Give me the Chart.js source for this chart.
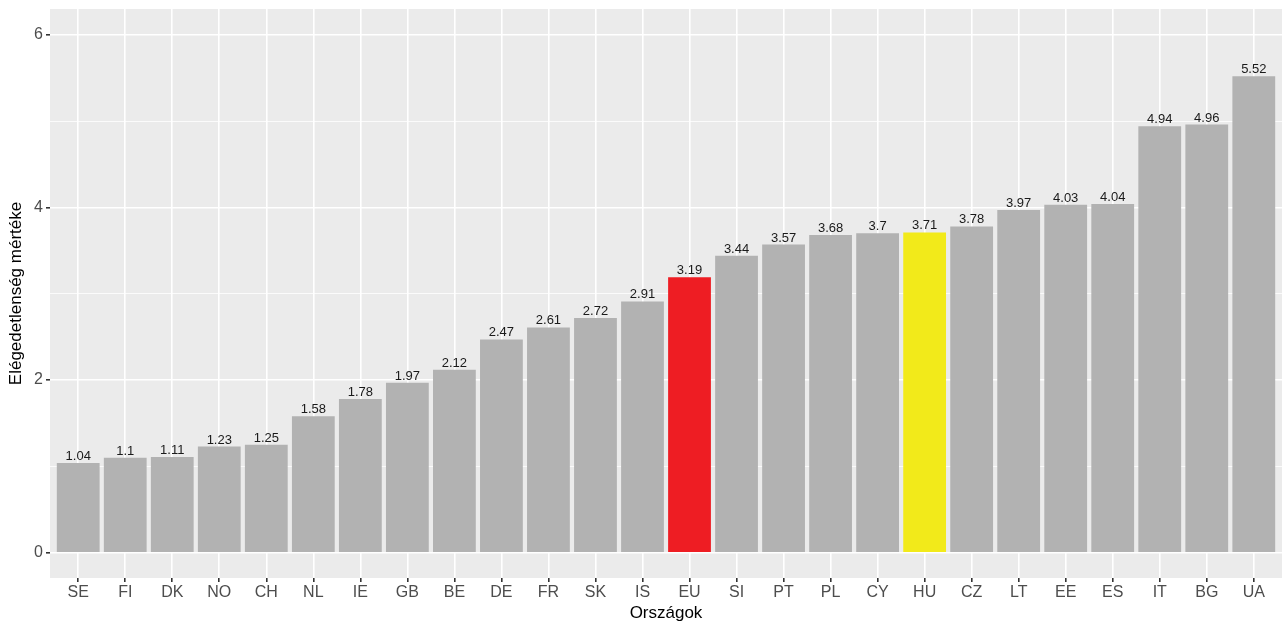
<!DOCTYPE html>
<html>
<head>
<meta charset="utf-8">
<script src="https://cdn.jsdelivr.net/npm/chart.js@4"></script>
<style>
  body { margin: 0; background: #fff; }
</style>
</head>
<body>
<canvas id="chart" width="1282" height="626"></canvas>
<script>
const countries = ['SE', 'FI', 'DK', 'NO', 'CH', 'NL', 'IE', 'GB', 'BE', 'DE', 'FR', 'SK', 'IS',
  'EU', 'SI', 'PT', 'PL', 'CY', 'HU', 'CZ', 'LT', 'EE', 'ES', 'IT', 'BG', 'UA'];
const values = [1.04, 1.1, 1.11, 1.23, 1.25, 1.58, 1.78, 1.97, 2.12, 2.47, 2.61, 2.72, 2.91,
  3.19, 3.44, 3.57, 3.68, 3.7, 3.71, 3.78, 3.97, 4.03, 4.04, 4.94, 4.96, 5.52];
const yTicks = [0, 1, 2, 3, 4, 5, 6];

const FONT = "'Liberation Sans', Arial, sans-serif";

function barColor(c) {
  if (c === 'EU') return '#EE1D23';
  if (c === 'HU') return '#F2EA1A';
  return '#B2B2B2';
}

const panelBg = {
  id: 'panelBg',
  beforeDraw(chart) {
    const a = chart.chartArea;
    const ctx = chart.ctx;
    ctx.save();
    ctx.fillStyle = '#EBEBEB';
    ctx.fillRect(a.left, a.top, a.right - a.left, a.bottom - a.top);
    ctx.restore();
  }
};

const valueLabels = {
  id: 'valueLabels',
  afterDatasetsDraw(chart) {
    const ctx = chart.ctx;
    const meta = chart.getDatasetMeta(0);
    ctx.save();
    ctx.font = '13px ' + FONT;
    ctx.fillStyle = '#1a1a1a';
    ctx.textAlign = 'center';
    ctx.textBaseline = 'alphabetic';
    meta.data.forEach((bar, i) => {
      ctx.fillText(String(values[i]), bar.x, bar.y - 3);
    });
    ctx.restore();
  }
};

new Chart(document.getElementById('chart').getContext('2d'), {
  type: 'bar',
  data: {
    datasets: [{
      data: values.map((v, i) => ({ x: i, y: v })),
      backgroundColor: countries.map(barColor),
      borderWidth: 0,
      categoryPercentage: 1,
      barPercentage: 0.91
    }]
  },
  options: {
    responsive: false,
    animation: false,
    layout: { padding: { top: 9, right: 0, left: 0, bottom: 0 } },
    plugins: {
      legend: { display: false },
      tooltip: { enabled: false }
    },
    scales: {
      x: {
        type: 'linear',
        offset: false,
        min: -0.6,
        max: countries.length - 0.4,
        afterBuildTicks: s => { s.ticks = countries.map((c, i) => ({ value: i })); },
        afterFit: s => { s.height = 48; s.paddingLeft = 0; s.paddingRight = 0; },
        border: { display: false },
        grid: { offset: false, color: '#fff', lineWidth: 1.6, tickLength: 4, tickColor: '#333' },
        ticks: {
          autoSkip: false,
          maxRotation: 0,
          padding: 1,
          color: '#4D4D4D',
          font: { family: FONT, size: 16 },
          callback: v => countries[v]
        },
        title: {
          display: true,
          text: 'Országok',
          color: '#000',
          font: { family: FONT, size: 17 },
          padding: { top: 0, bottom: 2 }
        }
      },
      y: {
        min: -0.293,
        max: 6.298,
        afterBuildTicks: s => { s.ticks = yTicks.map(v => ({ value: v })); },
        afterFit: s => { s.width = 50; s.paddingTop = 0; s.paddingBottom = 0; },
        border: { display: false },
        grid: {
          color: '#fff',
          lineWidth: c => (c.tick && c.tick.value % 2 === 0 ? 1.6 : 0.8),
          tickLength: 4,
          tickColor: c => (c.tick && c.tick.value % 2 === 0 ? '#333' : 'rgba(0,0,0,0)')
        },
        ticks: {
          padding: 3,
          color: '#4D4D4D',
          font: { family: FONT, size: 16 },
          callback: v => (v % 2 === 0 ? v : '')
        },
        title: {
          display: true,
          text: 'Elégedetlenség mértéke',
          color: '#000',
          font: { family: FONT, size: 17 },
          padding: { top: 6, bottom: 0 }
        }
      }
    }
  },
  plugins: [panelBg, valueLabels]
});
</script>
</body>
</html>
